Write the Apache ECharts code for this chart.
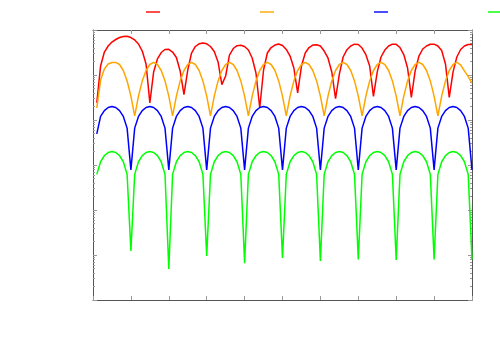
<!DOCTYPE html>
<html>
<head>
<meta charset="utf-8">
<script src="https://cdn.jsdelivr.net/npm/echarts@6/dist/echarts.min.js"></script>
<style>html,body{margin:0;padding:0;background:#fff}#c{width:500px;height:350px}</style>
</head>
<body>
<div id="c"></div>
<script>
const xs = [0.1,0.2,0.3,0.4,0.5,0.6,0.7,0.8,0.9,1.0,
  1.1,1.2,1.3,1.4,1.5,1.6,1.7,1.8,1.9,2.0,
  2.1,2.2,2.3,2.4,2.5,2.6,2.7,2.8,2.9,3.0,
  3.1,3.2,3.3,3.4,3.5,3.6,3.7,3.8,3.9,4.0,
  4.1,4.2,4.3,4.4,4.5,4.6,4.7,4.8,4.9,5.0,
  5.1,5.2,5.3,5.4,5.5,5.6,5.7,5.8,5.9,6.0,
  6.1,6.2,6.3,6.4,6.5,6.6,6.7,6.8,6.9,7.0,
  7.1,7.2,7.3,7.4,7.5,7.6,7.7,7.8,7.9,8.0,
  8.1,8.2,8.3,8.4,8.5,8.6,8.7,8.8,8.9,9.0,
  9.1,9.2,9.3,9.4,9.5,9.6,9.7,9.8,9.9,10.0];

const red = [24,158,324,441,541,615,681,717,724,681,
  600,489,341,176,24,117,227,316,369,373,
  324,245,123,36.5,129,308,430,493,514,493,
  430,333,195,61,95,278,388,448,457,430,
  359,239,111,18.5,129,308,408,464,489,453,
  369,264,143,40,158,308,408,464,471,441,
  341,239,117,29.7,105,251,365,441,484,476,
  398,283,158,33.6,117,251,359,441,484,481,
  408,285,143,31.9,123,264,378,441,481,484,
  441,350,176,31.9,117,251,369,441,476,476];

const orange = [18.5,77,136,176,190,190,171,126,74,34,
  12.3,34,74,126,171,190,171,126,74,34,
  12.3,34,74,126,171,190,171,126,74,34,
  12.3,34,74,126,171,190,171,126,74,34,
  12.3,34,74,126,171,190,171,126,74,34,
  12.3,34,74,126,171,190,171,126,74,34,
  12.3,34,74,126,171,190,171,126,74,34,
  12.3,34,74,126,171,190,171,126,74,34,
  12.3,34,74,126,171,190,171,126,74,34,
  12.3,34,74,126,171,190,167,123,92,66];

const blue = [4.9,12,16.2,19,20,19,16.2,12,6.6,0.78,
  6.6,12,16.2,19,20,19,16.2,12,6.6,0.78,
  6.6,12,16.2,19,20,19,16.2,12,6.6,0.78,
  6.6,12,16.2,19,20,19,16.2,12,6.6,0.78,
  6.6,12,16.2,19,20,19,16.2,12,6.6,0.78,
  6.6,12,16.2,19,20,19,16.2,12,6.6,0.78,
  6.6,12,16.2,19,20,19,16.2,12,6.6,0.78,
  6.6,12,16.2,19,20,19,16.2,12,6.6,0.78,
  6.6,12,16.2,19,20,19,16.2,12,6.6,0.78,
  6.6,12,16.2,19,20,19,16.2,12,6.6,0.78];

const green = [0.62,1.18,1.62,1.9,2.0,1.9,1.62,1.18,0.62,0.0123,
  0.62,1.18,1.62,1.9,2.0,1.9,1.62,1.18,0.62,0.0049,
  0.62,1.18,1.62,1.9,2.0,1.9,1.62,1.18,0.62,0.0095,
  0.62,1.18,1.62,1.9,2.0,1.9,1.62,1.18,0.62,0.0066,
  0.62,1.18,1.62,1.9,2.0,1.9,1.62,1.18,0.62,0.0086,
  0.62,1.18,1.62,1.9,2.0,1.9,1.62,1.18,0.62,0.0074,
  0.62,1.18,1.62,1.9,2.0,1.9,1.62,1.18,0.62,0.0080,
  0.62,1.18,1.62,1.9,2.0,1.9,1.62,1.18,0.62,0.0078,
  0.62,1.18,1.62,1.9,2.0,1.9,1.62,1.18,0.62,0.0080,
  0.62,1.18,1.62,1.9,2.0,1.9,1.62,1.18,0.62,0.0080];

const majorTicks = [0.001,0.01,0.1,1,10,100,1000];
const minorTicks = [];
for (let d = 0; d < majorTicks.length - 1; d++) {
  for (let m = 2; m <= 9; m++) minorTicks.push(majorTicks[d] * m);
}

const seriesDefs = [
  {name: 'r', data: red, color: '#ff0000'},
  {name: 'o', data: orange, color: '#ffa500'},
  {name: 'b', data: blue, color: '#0000ff'},
  {name: 'g', data: green, color: '#00ff00'}
];

const frame = '#555';
const tickC = '#999';

function xAx(pos) {
  return {
    type: 'value', min: 0, max: 10, interval: 1, position: pos,
    axisLine: {show: true, onZero: false, lineStyle: {color: frame, width: 1}},
    axisTick: {show: true, inside: true, length: 4, lineStyle: {color: tickC}},
    axisLabel: {show: false}, splitLine: {show: false}
  };
}
function yAx(pos, ticks, len, line) {
  return {
    type: 'log', logBase: 10, min: 0.001, max: 1000, position: pos,
    axisLine: {show: line, lineStyle: {color: frame, width: 1}},
    axisTick: {show: true, inside: true, length: len, customValues: ticks, lineStyle: {color: tickC}},
    axisLabel: {show: false}, splitLine: {show: false}, minorTick: {show: false}
  };
}

const chart = echarts.init(document.getElementById('c'), null, {renderer: 'canvas'});
chart.setOption({
  backgroundColor: '#fff',
  animation: false,
  legend: {
    top: 11, left: 146, padding: 0, width: 420,
    itemWidth: 14, itemHeight: 2, itemGap: 100, icon: 'rect',
    itemStyle: {opacity: 0.7},
    formatter: function () { return ''; },
    data: seriesDefs.map(s => s.name)
  },
  grid: {left: 93, right: 28, top: 30, bottom: 50, containLabel: false},
  xAxis: [xAx('bottom'), xAx('top')],
  yAxis: [
    yAx('left', majorTicks, 4, true),
    yAx('left', minorTicks, 2, false),
    yAx('right', majorTicks, 4, true),
    yAx('right', minorTicks, 2, false)
  ],
  series: seriesDefs.map(s => ({
    name: s.name, type: 'line', xAxisIndex: 0, yAxisIndex: 0,
    data: xs.map((x, i) => [x, s.data[i]]),
    showSymbol: false, symbol: 'none',
    lineStyle: {color: s.color, width: 1.5},
    itemStyle: {color: s.color},
    emphasis: {disabled: true}
  }))
});
</script>
</body>
</html>
